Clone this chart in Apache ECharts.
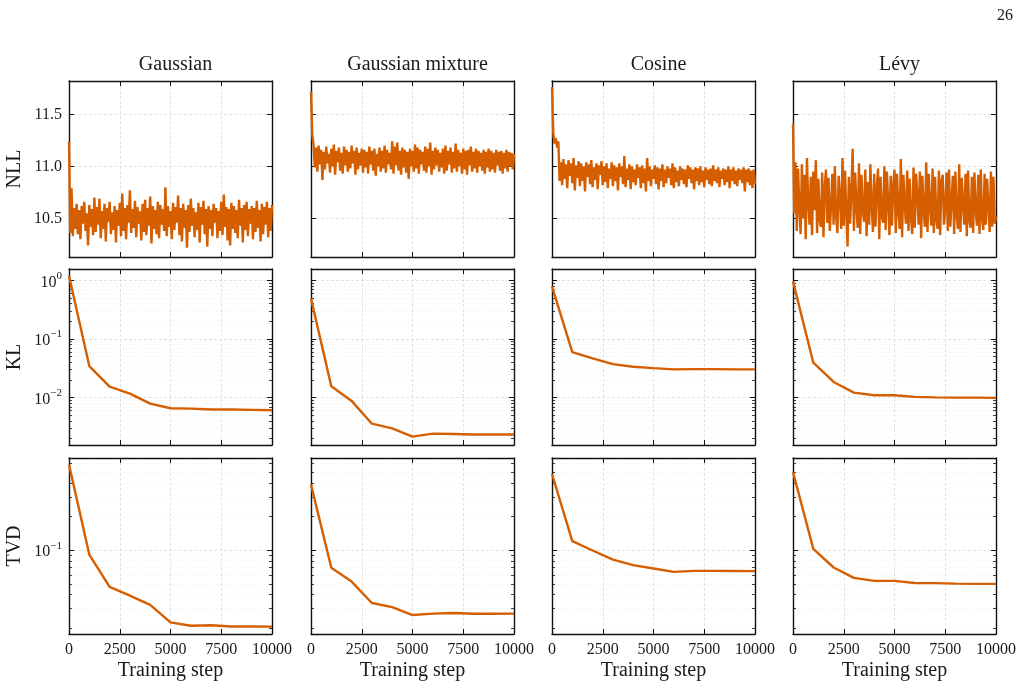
<!DOCTYPE html>
<html>
<head>
<meta charset="utf-8">
<script src="https://cdn.jsdelivr.net/npm/echarts@6/dist/echarts.min.js"></script>
<style>
    html, body { margin: 0; background: #fff; }
    #chart { width: 1026px; height: 688px; }
</style>
</head>
<body>
<div id="chart"></div>
<script>
// columns = target distributions, rows = metrics
const columns = ['Gaussian', 'Gaussian mixture', 'Cosine', 'Lévy'];
const metrics = ['NLL', 'KL', 'TVD'];

// evaluation steps for KL / TVD
const evalSteps = [0, 1000, 2000, 3000, 4000, 5000, 6000, 7000, 8000, 9000, 10000];

const nllGaussian = [
    11.24, 10.36, 10.79, 10.33, 10.60, 10.40, 10.64, 10.35, 10.58, 10.30,
    10.62, 10.45, 10.66, 10.38, 10.55, 10.24, 10.63, 10.42, 10.59, 10.34,
    10.70, 10.37, 10.61, 10.44, 10.69, 10.31, 10.57, 10.40, 10.64, 10.28,
    10.60, 10.47, 10.66, 10.35, 10.56, 10.39, 10.62, 10.27, 10.58, 10.43,
    10.65, 10.33, 10.74, 10.38, 10.60, 10.30, 10.63, 10.46, 10.77, 10.36,
    10.59, 10.41, 10.67, 10.32, 10.61, 10.45, 10.57, 10.29, 10.64, 10.37,
    10.68, 10.34, 10.60, 10.43, 10.71, 10.26, 10.62, 10.40, 10.58, 10.35,
    10.66, 10.31, 10.63, 10.44, 10.59, 10.38, 10.80, 10.33, 10.62, 10.42,
    10.57, 10.30, 10.65, 10.39, 10.61, 10.46, 10.72, 10.34, 10.60, 10.28,
    10.64, 10.41, 10.58, 10.22, 10.63, 10.37, 10.69, 10.43, 10.60, 10.32,
    10.56, 10.39, 10.65, 10.27, 10.61, 10.44, 10.67, 10.35, 10.59, 10.23,
    10.62, 10.40, 10.58, 10.33, 10.64, 10.46, 10.60, 10.31, 10.57, 10.38,
    10.66, 10.34, 10.73, 10.42, 10.61, 10.29, 10.59, 10.24, 10.65, 10.40,
    10.62, 10.36, 10.58, 10.31, 10.68, 10.43, 10.60, 10.27, 10.63, 10.39,
    10.66, 10.33, 10.59, 10.45, 10.62, 10.30, 10.60, 10.37, 10.67, 10.41,
    10.58, 10.28, 10.64, 10.35, 10.61, 10.44, 10.66, 10.32, 10.60, 10.38,
    10.63
];
const nllMixture = [
    11.72, 11.30, 11.21, 10.99, 11.18, 10.95, 11.20, 11.02, 11.16, 10.87,
    11.14, 10.97, 11.19, 11.03, 11.12, 10.94, 11.17, 11.00, 11.21, 10.92,
    11.15, 11.04, 11.18, 10.96, 11.13, 10.93, 11.19, 11.01, 11.16, 10.95,
    11.14, 10.98, 11.20, 11.03, 11.15, 10.92, 11.18, 10.97, 11.13, 11.01,
    11.17, 10.94, 11.16, 10.99, 11.14, 10.93, 11.19, 11.02, 11.15, 10.96,
    11.17, 10.91, 11.12, 11.00, 11.18, 10.95, 11.15, 10.98, 11.20, 10.94,
    11.16, 11.02, 11.13, 10.97, 11.24, 10.93, 11.19, 11.01, 11.23, 10.96,
    11.15, 10.92, 11.18, 10.99, 11.16, 10.94, 11.14, 10.88, 11.17, 11.00,
    11.15, 10.95, 11.21, 10.98, 11.18, 10.93, 11.16, 11.02, 11.14, 10.96,
    11.19, 10.94, 11.17, 11.00, 11.23, 10.92, 11.15, 10.97, 11.18, 11.01,
    11.16, 10.95, 11.13, 10.99, 11.17, 10.93, 11.20, 10.96, 11.15, 11.02,
    11.18, 10.94, 11.14, 10.98, 11.22, 10.95, 11.16, 11.00, 11.13, 10.93,
    11.17, 10.97, 11.15, 10.92, 11.16, 11.01, 11.19, 10.95, 11.14, 10.98,
    11.17, 10.94, 11.15, 11.00, 11.13, 10.96, 11.16, 10.93, 11.14, 10.99,
    11.17, 10.95, 11.15, 10.97, 11.13, 10.94, 11.16, 11.01, 11.14, 10.96,
    11.15, 10.93, 11.13, 10.98, 11.16, 10.95, 11.14, 11.00, 11.13, 10.97,
    11.12
];
const nllCosine = [
    11.76, 11.32, 11.22, 11.27, 11.18, 11.24, 10.86, 11.04, 10.82, 11.07,
    10.88, 11.02, 10.79, 11.06, 10.91, 11.03, 10.84, 11.08, 10.77, 11.01,
    10.89, 11.05, 10.81, 11.03, 10.86, 11.00, 10.76, 11.04, 10.90, 11.02,
    10.83, 11.06, 10.80, 10.99, 10.87, 11.03, 10.78, 11.01, 10.92, 11.05,
    10.82, 11.00, 10.85, 11.03, 10.79, 10.98, 10.88, 11.04, 10.81, 11.01,
    10.86, 10.99, 10.77, 11.03, 10.90, 11.00, 10.83, 11.10, 10.80, 10.98,
    10.87, 11.02, 10.78, 11.00, 10.85, 10.97, 10.82, 11.02, 10.89, 10.99,
    10.79, 11.01, 10.84, 10.98, 10.76, 11.08, 10.86, 11.00, 10.81, 10.97,
    10.88, 11.01, 10.83, 10.99, 10.78, 10.98, 10.86, 11.02, 10.80, 10.97,
    10.84, 11.00, 10.89, 10.98, 10.82, 11.03, 10.79, 10.99, 10.85, 10.96,
    10.81, 11.00, 10.87, 10.98, 10.83, 10.97, 10.80, 11.01, 10.88, 10.99,
    10.84, 10.97, 10.78, 10.99, 10.86, 10.98, 10.82, 11.00, 10.85, 10.96,
    10.80, 10.99, 10.87, 10.97, 10.83, 10.98, 10.81, 11.01, 10.86, 10.97,
    10.84, 10.99, 10.80, 10.96, 10.88, 10.98, 10.82, 10.97, 10.85, 11.00,
    10.79, 10.97, 10.86, 10.99, 10.83, 10.96, 10.81, 10.98, 10.87, 10.97,
    10.84, 10.99, 10.76, 10.97, 10.85, 10.98, 10.82, 10.96, 10.79, 10.97,
    10.83
];
const nllLevy = [
    11.41, 10.55, 11.04, 10.38, 10.98, 10.60, 10.35, 11.02, 10.50, 10.92,
    10.30, 11.08, 10.65, 10.44, 10.90, 10.34, 10.95, 10.58, 11.06, 10.36,
    10.88, 10.48, 10.42, 10.94, 10.32, 10.80, 10.97, 10.46, 10.89, 10.38,
    10.62, 10.93, 10.44, 11.00, 10.52, 10.36, 10.91, 10.70, 10.40, 11.08,
    10.43, 10.96, 10.55, 10.23, 10.90, 10.45, 10.75, 11.17, 10.38, 10.94,
    10.60, 10.41, 11.03, 10.35, 10.92, 10.57, 10.47, 10.97, 10.33, 10.85,
    10.44, 11.02, 10.62, 10.37, 10.93, 10.42, 10.78, 10.98, 10.30, 10.90,
    10.52, 10.46, 11.00, 10.39, 10.95, 10.66, 10.34, 10.91, 10.43, 10.82,
    10.97, 10.36, 10.93, 10.58, 10.40, 11.07, 10.32, 10.92, 10.64, 10.45,
    10.96, 10.38, 10.88, 10.50, 10.35, 10.99, 10.41, 10.93, 10.72, 10.44,
    10.95, 10.31, 10.91, 10.56, 10.42, 11.04, 10.37, 10.93, 10.61, 10.43,
    10.98, 10.36, 10.90, 10.48, 10.40, 10.96, 10.34, 10.86, 10.92, 10.44,
    10.59, 10.94, 10.38, 10.97, 10.42, 10.68, 10.91, 10.35, 10.95, 10.53,
    10.40, 11.02, 10.37, 10.89, 10.63, 10.44, 10.93, 10.33, 10.96, 10.47,
    10.41, 10.90, 10.36, 10.94, 10.58, 10.43, 10.92, 10.35, 10.97, 10.50,
    10.39, 10.93, 10.44, 10.88, 10.62, 10.37, 10.95, 10.42, 10.90, 10.45,
    10.52
];

const klGaussian = [1.2, 0.0345, 0.0154, 0.0117, 0.0079, 0.0066, 0.0065, 0.0063, 0.0063, 0.0062, 0.0061];
const klMixture = [0.488, 0.0156, 0.0088, 0.0036, 0.0030, 0.00217, 0.00244, 0.0024, 0.00235, 0.00235, 0.00235];
const klCosine = [0.79, 0.0597, 0.0467, 0.0373, 0.0337, 0.0319, 0.0303, 0.0306, 0.0306, 0.0304, 0.0303];
const klLevy = [0.96, 0.0394, 0.0185, 0.0122, 0.0110, 0.0110, 0.0103, 0.0101, 0.0100, 0.0100, 0.0099];

const tvdGaussian = [0.582, 0.0914, 0.0469, 0.0392, 0.0324, 0.0226, 0.0211, 0.0213, 0.0208, 0.0208, 0.0207];
const tvdMixture = [0.387, 0.0695, 0.0524, 0.0337, 0.0310, 0.0263, 0.0271, 0.0274, 0.0270, 0.0270, 0.0271];
const tvdCosine = [0.48, 0.1205, 0.0993, 0.0824, 0.0734, 0.0685, 0.0639, 0.0653, 0.0653, 0.0652, 0.065];
const tvdLevy = [0.50, 0.1028, 0.070, 0.0565, 0.0531, 0.0531, 0.0509, 0.0507, 0.0502, 0.0500, 0.0500];

// tick labels
const stepTicks = [0, 2500, 5000, 7500, 10000];
const nllTicks = [10.5, 11.0, 11.5];
const klTicks = [0.01, 0.1, 1];
const klMinorTicks = [0.002, 0.003, 0.004, 0.005, 0.006, 0.007, 0.008, 0.009,
    0.02, 0.03, 0.04, 0.05, 0.06, 0.07, 0.08, 0.09,
    0.2, 0.3, 0.4, 0.5, 0.6, 0.7, 0.8, 0.9];
const tvdTicks = [0.1];
const tvdMinorTicks = [0.02, 0.03, 0.04, 0.05, 0.06, 0.07, 0.08, 0.09, 0.2, 0.3, 0.4, 0.5, 0.6];

const rowData = [
    [nllGaussian, nllMixture, nllCosine, nllLevy],
    [klGaussian, klMixture, klCosine, klLevy],
    [tvdGaussian, tvdMixture, tvdCosine, tvdLevy]
];

const FONT = '"Liberation Serif", "DejaVu Serif", serif';
const TEXT = '#1a1a1a';
const LINE = '#d55e00';
const FRAME = '#111';

const colLeft = [69, 311, 552, 793];
const rowTop = [81, 269, 458];
const panelW = 203;
const panelH = 176;

// per-row y axis setup
const rowAxis = [
    { type: 'value', min: 10.13, max: 11.82, major: nllTicks, minor: null },
    { type: 'log', min: 0.00156, max: 1.56, major: klTicks, minor: klMinorTicks },
    { type: 'log', min: 0.0178, max: 0.667, major: tvdTicks, minor: tvdMinorTicks }
];

function powLabel(v) {
    const k = Math.round(Math.log10(v));
    return '{b|10}{s|' + String(k).replace('-', '\u2212') + '}';
}

const richLabel = {
    b: { fontFamily: FONT, fontSize: 16, color: TEXT, verticalAlign: 'bottom', lineHeight: 20 },
    s: { fontFamily: FONT, fontSize: 11, color: TEXT, verticalAlign: 'top', lineHeight: 12 }
};

const grids = [];
const xAxes = [];
const yAxes = [];
const series = [];

function frameLine() {
    return { show: true, onZero: false, lineStyle: { color: FRAME, width: 1.4 } };
}

rowAxis.forEach((ax, r) => {
    columns.forEach((col, c) => {
        const g = grids.length;
        grids.push({ left: colLeft[c], top: rowTop[r], width: panelW, height: panelH, containLabel: false });

        const xi = xAxes.length;
        xAxes.push({
            gridIndex: g, type: 'value', min: 0, max: 10000,
            axisLine: frameLine(),
            axisTick: { show: true, inside: true, length: 5, customValues: stepTicks, lineStyle: { color: FRAME, width: 1 } },
            axisLabel: {
                show: r === 2, customValues: stepTicks, margin: 8,
                fontFamily: FONT, fontSize: 16, color: TEXT,
                formatter: (v) => String(v)
            },
            splitLine: { show: true, lineStyle: { color: '#dadada', width: 0.8, type: [3, 2] } },
            name: r === 2 ? 'Training step' : '',
            nameLocation: 'middle', nameGap: 27,
            nameTextStyle: { fontFamily: FONT, fontSize: 20, color: TEXT }
        });
        xAxes.push({
            gridIndex: g, type: 'value', min: 0, max: 10000, position: 'top',
            axisLine: frameLine(),
            axisTick: { show: true, inside: true, length: 5, customValues: stepTicks, lineStyle: { color: FRAME, width: 1 } },
            axisLabel: { show: false },
            splitLine: { show: false }
        });

        const yi = yAxes.length;
        const yBase = { gridIndex: g, type: ax.type, min: ax.min, max: ax.max };
        if (ax.type === 'log') yBase.logBase = 10;

        yAxes.push(Object.assign({}, yBase, {
            position: 'left',
            axisLine: frameLine(),
            axisTick: { show: true, inside: true, length: 5, customValues: ax.major, lineStyle: { color: FRAME, width: 1 } },
            axisLabel: {
                show: c === 0, customValues: ax.major, margin: 7,
                fontFamily: FONT, fontSize: 16, color: TEXT,
                formatter: ax.type === 'log' ? powLabel : (v) => v.toFixed(1),
                rich: richLabel
            },
            splitLine: { show: true, lineStyle: { color: '#dadada', width: 0.8, type: [3, 2] } },
            name: c === 0 ? metrics[r] : '',
            nameLocation: 'middle', nameGap: 44, nameRotate: 90,
            nameTextStyle: { fontFamily: FONT, fontSize: 20, color: TEXT }
        }));
        yAxes.push(Object.assign({}, yBase, {
            position: 'right',
            axisLine: frameLine(),
            axisTick: { show: true, inside: true, length: 5, customValues: ax.major, lineStyle: { color: FRAME, width: 1 } },
            axisLabel: { show: false },
            splitLine: { show: false }
        }));

        if (ax.minor) {
            ['left', 'right'].forEach((pos) => {
                yAxes.push(Object.assign({}, yBase, {
                    position: pos,
                    axisLine: { show: false, onZero: false },
                    axisTick: { show: true, inside: true, length: 3, customValues: ax.minor, lineStyle: { color: FRAME, width: 0.8 } },
                    axisLabel: { show: false },
                    splitLine: { show: pos === 'left', lineStyle: { color: '#ebebeb', width: 0.7, type: [1, 2] } }
                }));
            });
        }

        const vals = rowData[r][c];
        const steps = r === 0
            ? vals.map((v, i) => i * 10000 / (vals.length - 1))
            : evalSteps;

        series.push({
            type: 'line',
            xAxisIndex: xi,
            yAxisIndex: yi,
            data: vals.map((v, i) => [steps[i], v]),
            showSymbol: false,
            symbol: 'none',
            lineStyle: { color: LINE, width: r === 0 ? 2.4 : 2.4 },
            itemStyle: { color: LINE },
            z: 3
        });
    });
});

const titles = columns.map((name, c) => ({
    text: name,
    left: colLeft[c] + panelW / 2,
    top: 50,
    textAlign: 'center',
    textStyle: { fontFamily: FONT, fontSize: 20, fontWeight: 'normal', color: TEXT }
}));
titles.push({
    text: '26', right: 8, top: 3,
    textStyle: { fontFamily: FONT, fontSize: 16, fontWeight: 'normal', color: TEXT }
});

const chart = echarts.init(document.getElementById('chart'), null, { renderer: 'canvas' });
chart.setOption({
    animation: false,
    backgroundColor: '#fff',
    title: titles,
    grid: grids,
    xAxis: xAxes,
    yAxis: yAxes,
    series: series
});
</script>
</body>
</html>
